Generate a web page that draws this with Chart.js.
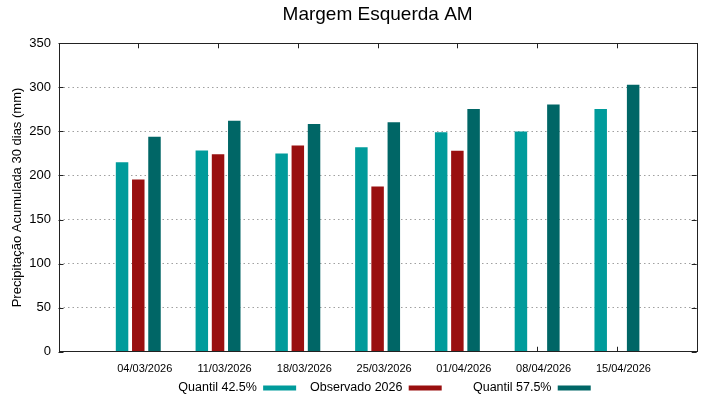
<!DOCTYPE html>
<html><head><meta charset="utf-8">
<script src="https://cdn.jsdelivr.net/npm/chart.js@4/dist/chart.umd.min.js"></script>
<style>html,body{margin:0;padding:0;background:#fff}#wrap{width:719px;height:399px;position:relative}</style>
</head><body><div id="wrap"><canvas id="c"></canvas></div>
<script>
const categories = ['04/03/2026','11/03/2026','18/03/2026','25/03/2026','01/04/2026','08/04/2026','15/04/2026'];
const quantil425 = [215, 228.5, 225, 232, 249, 250, 275.5];
const observado2026 = [195.5, 224, 234, 187.5, 228, null, null];
const quantil575 = [244, 262, 258.5, 260.5, 275.5, 280.5, 303];
const yTickValues = [0, 50, 100, 150, 200, 250, 300, 350];
const seriesNames = ['Quantil 42.5%', 'Observado 2026', 'Quantil 57.5%'];

const FONT = "'Liberation Sans', Arial, sans-serif";
const pad = arr => [null, ...arr, null];
const labels = ['', ...categories, ''];
const legendLead = ['    ', '    ', '         '];

const framePlugin = {
  id: 'frame',
  beforeDatasetsDraw(chart) {
    const {ctx, chartArea: a, scales: {x, y}} = chart;
    ctx.save();
    ctx.strokeStyle = '#222';
    ctx.lineWidth = 1;
    ctx.beginPath();
    yTickValues.forEach(v => {
      const py = Math.round(y.getPixelForValue(v)) + 0.5;
      ctx.moveTo(a.left, py); ctx.lineTo(a.left + 5, py);
      ctx.moveTo(a.right, py); ctx.lineTo(a.right - 5, py);
    });
    categories.forEach((c, i) => {
      const px = Math.round(x.getPixelForValue(i + 1)) + 0.5;
      ctx.moveTo(px, a.bottom); ctx.lineTo(px, a.bottom - 5);
      ctx.moveTo(px, a.top); ctx.lineTo(px, a.top + 5);
    });
    ctx.stroke();
    ctx.restore();
  },
  afterDatasetsDraw(chart) {
    const {ctx, chartArea: a} = chart;
    ctx.save();
    ctx.strokeStyle = '#222';
    ctx.lineWidth = 1;
    ctx.strokeRect(Math.round(a.left) + 0.5, Math.round(a.top) + 0.5,
                   Math.round(a.right - a.left), Math.round(a.bottom - a.top));
    ctx.restore();
  }
};

new Chart(document.getElementById('c'), {
  type: 'bar',
  data: {
    labels: labels,
    datasets: [
      {label: seriesNames[0], data: pad(quantil425), backgroundColor: '#009b9b'},
      {label: seriesNames[1], data: pad(observado2026), backgroundColor: '#990f0f'},
      {label: seriesNames[2], data: pad(quantil575), backgroundColor: '#006666'}
    ]
  },
  options: {
    responsive: true,
    maintainAspectRatio: false,
    animation: false,
    devicePixelRatio: 1,
    datasets: {bar: {categoryPercentage: 0.61, barPercentage: 0.77, borderWidth: 0}},
    layout: {padding: {left: 0, right: 22.3, top: 0, bottom: -5.25}},
    plugins: {
      tooltip: {enabled: false},
      title: {
        display: true, text: 'Margem Esquerda AM', fullSize: false,
        color: '#000', font: {family: FONT, size: 19, weight: 'normal'},
        padding: {top: 3.6, bottom: 16.9}
      },
      legend: {
        position: 'bottom', fullSize: false, rtl: true, reverse: true, textDirection: 'ltr',
        labels: {
          color: '#000', font: {family: FONT, size: 12.5},
          boxWidth: 33, boxHeight: 5, padding: 0,
          generateLabels: chart => {
            const items = Chart.defaults.plugins.legend.labels.generateLabels(chart);
            items.forEach(it => { it.text = legendLead[it.datasetIndex] + it.text; it.lineWidth = 0; });
            return items;
          }
        }
      }
    },
    scales: {
      x: {
        type: 'category', offset: false,
        afterFit: s => { s.height = 30; },
        grid: {display: false, drawTicks: false},
        border: {display: false},
        ticks: {color: '#000', font: {family: FONT, size: 11}, padding: 11, labelOffset: 6.5,
                autoSkip: false, maxRotation: 0, minRotation: 0}
      },
      y: {
        min: 0, max: 350,
        afterFit: s => { s.width = 58.5; },
        afterBuildTicks: s => { s.ticks = yTickValues.map(v => ({value: v})); },
        grid: {color: '#a0a0a0', lineWidth: 1, drawTicks: false},
        border: {display: false, dash: [1.5, 3]},
        ticks: {color: '#000', font: {family: FONT, size: 13}, padding: 7.5},
        title: {display: true, text: 'Precipitação Acumulada 30 dias (mm)', color: '#000',
                font: {family: FONT, size: 13}, padding: {top: 10, bottom: 0}}
      }
    }
  },
  plugins: [framePlugin]
});
</script></body></html>
